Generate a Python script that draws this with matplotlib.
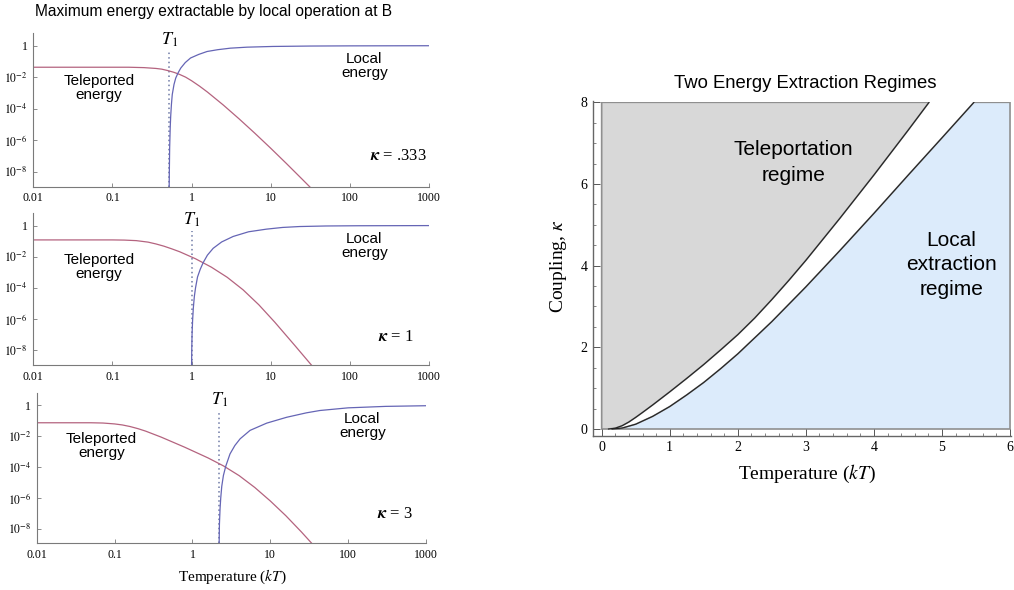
import numpy as np
import matplotlib.pyplot as plt
from matplotlib.ticker import MultipleLocator, NullLocator

plt.rcParams['mathtext.fontset'] = 'stix'
plt.rcParams['font.family'] = ['Liberation Serif', 'DejaVu Serif']

SANS = ['Liberation Sans', 'DejaVu Sans']
TELE_COLOR = '#b4637f'
LOCAL_COLOR = '#6565b5'
T1_COLOR = '#6f7aa6'
AXIS_GRAY = '#7a7a7a'

# ---- left: energy extractable vs temperature, one panel per coupling ----
kappa_labels = ['.333', '1', '3']
t1_values = [0.521, 1.0, 2.2]

# kappa = .333
tele_T_a = [0.01, 0.1, 0.16, 0.25, 0.355, 0.42, 0.5, 0.6, 0.708, 0.84, 1.0, 1.26, 1.585,
            2.51, 3.98, 6.31, 10, 15.85, 25.1, 31.6]
tele_E_a = [0.043, 0.043, 0.043, 0.0406, 0.036, 0.0324, 0.0264, 0.0203, 0.0149, 0.0101,
            5.96e-3, 2.7e-3, 1.14e-3, 1.72e-4, 2.26e-5, 2.72e-6, 3.05e-7, 3.2e-8, 3.2e-9, 1.0e-9]
local_T_a = [0.521, 0.5236, 0.5284, 0.537, 0.5445, 0.556, 0.570, 0.600, 0.631, 0.676, 0.730,
             0.832, 0.970, 1.23, 1.57, 2.14, 3.09, 5.01, 10.7, 31.6, 100, 1000]
local_E_a = [1e-9, 1e-8, 3.2e-7, 6.3e-6, 3.2e-5, 1.8e-4, 7.9e-4, 3.5e-3, 8.9e-3, 0.019, 0.038,
             0.085, 0.166, 0.28, 0.43, 0.56, 0.70, 0.81, 0.90, 0.955, 0.98, 1.0]

# kappa = 1
tele_T_b = [0.01, 0.1, 0.141, 0.2, 0.282, 0.355, 0.447, 0.562, 0.708, 1.122, 1.778, 2.818,
            4.467, 7.08, 11.22, 19.95, 31.6, 39.8]
tele_E_b = [0.12, 0.12, 0.117, 0.108, 0.0866, 0.066, 0.0476, 0.032, 0.0208, 7.37e-3, 2.13e-3,
            4.76e-4, 7.5e-5, 8.1e-6, 6.3e-7, 2.1e-8, 1.33e-9, 3.3e-10]
local_T_b = [1.0, 1.005, 1.014, 1.03, 1.052, 1.084, 1.122, 1.189, 1.288, 1.403, 1.585, 1.875,
             2.4, 3.35, 5.25, 8.81, 14.1, 23.2, 50, 126, 1000]
local_E_b = [1e-9, 1e-8, 1e-7, 7.9e-7, 5e-6, 2.8e-5, 1e-4, 5e-4, 1.58e-3, 4.2e-3, 0.0126,
             0.0347, 0.089, 0.2, 0.4, 0.59, 0.76, 0.87, 0.944, 0.977, 1.0]

# kappa = 3
tele_T_c = [0.01, 0.05, 0.071, 0.1, 0.126, 0.158, 0.2, 0.251, 0.398, 0.794, 1.585, 2.51,
            3.98, 6.31, 10, 15.85, 25.1, 39.8]
tele_E_c = [0.075, 0.075, 0.072, 0.063, 0.054, 0.0427, 0.031, 0.0214, 8.7e-3, 1.94e-3,
            3.9e-4, 1.17e-4, 2.75e-5, 4.7e-6, 6.2e-7, 6.8e-8, 6.0e-9, 4.6e-10]
local_T_c = [2.2, 2.206, 2.223, 2.265, 2.312, 2.382, 2.5, 2.68, 3.04, 3.51, 4.1, 5.5, 9.0,
             16.2, 29, 43.4, 100, 302, 1000]
local_E_c = [1e-10, 1.6e-9, 2e-8, 2e-7, 1e-6, 5.6e-6, 2.8e-5, 1.12e-4, 7.1e-4, 2.5e-3,
             6.8e-3, 0.024, 0.071, 0.17, 0.33, 0.47, 0.7, 0.87, 0.96]

log_xticks = [0.01, 0.1, 1, 10, 100, 1000]
log_xticklabels = ['0.01', '0.1', '1', '10', '100', '1000']
log_yticks = [1, 1e-2, 1e-4, 1e-6, 1e-8]
log_yticklabels = ['1', '$10^{-2}$', '$10^{-4}$', '$10^{-6}$', '$10^{-8}$']

# ---- right: regime boundaries in the (temperature, coupling) plane ----
upper_T = [0.1, 0.2, 0.3, 0.4, 0.5, 0.6, 0.75, 1.0, 1.25, 1.5, 1.75, 2.0, 2.25, 2.5, 2.75,
           3.0, 3.5, 4.0, 4.5, 4.81]
upper_K = [0.0, 0.02, 0.08, 0.172, 0.285, 0.405, 0.59, 0.91, 1.24, 1.58, 1.94, 2.31, 2.72,
           3.17, 3.64, 4.13, 5.16, 6.22, 7.31, 8.0]
lower_T = [0.15, 0.3, 0.5, 0.75, 1.0, 1.25, 1.5, 1.75, 2.0, 2.5, 3.0, 3.5, 4.0, 4.5, 5.0, 5.47]
lower_K = [0.0, 0.0225, 0.1175, 0.31, 0.55, 0.835, 1.14, 1.48, 1.84, 2.63, 3.48, 4.37, 5.28,
           6.21, 7.13, 8.0]
regime_xticks = [0, 1, 2, 3, 4, 5, 6]
regime_yticks = [0, 2, 4, 6, 8]

W, H = 1014, 590
fig = plt.figure(figsize=(W / 100, H / 100), dpi=100)


def px_rect(x0, y0, x1, y1):
    # pixel box (top-left origin) -> figure fraction rect
    return [x0 / W, 1 - y1 / H, (x1 - x0) / W, (y1 - y0) / H]


panels = [
    (px_rect(33.3, 33.3, 429, 186.7), tele_T_a, tele_E_a, local_T_a, local_E_a),
    (px_rect(33.3, 213.3, 429, 365), tele_T_b, tele_E_b, local_T_b, local_E_b),
    (px_rect(36.7, 393.3, 426, 543.3), tele_T_c, tele_E_c, local_T_c, local_E_c),
]
kappa_pos = [(935, 9.3e-8), (650, 7.2e-8), (676, 8.9e-8)]
ylo, yhi = 10 ** -8.96, 10 ** 0.79

for i, (rect, tT, tE, lT, lE) in enumerate(panels):
    ax = fig.add_axes(rect)
    ax.set_xscale('log')
    ax.set_yscale('log')
    t1 = t1_values[i]
    ax.plot([t1, t1], [ylo, 0.45], color=T1_COLOR, lw=1.1, ls=(0, (1, 2)))
    ax.plot(tT, tE, color=TELE_COLOR, lw=0.9)
    ax.plot(lT, lE, color=LOCAL_COLOR, lw=0.9)
    ax.set_xlim(0.01, 1000)
    ax.set_ylim(ylo, yhi)
    for s in ['top', 'right']:
        ax.spines[s].set_visible(False)
    for s in ['left', 'bottom']:
        ax.spines[s].set_color(AXIS_GRAY)
        ax.spines[s].set_linewidth(0.8)
    ax.set_xticks(log_xticks, log_xticklabels)
    ax.set_yticks(log_yticks, log_yticklabels)
    ax.xaxis.set_minor_locator(NullLocator())
    ax.yaxis.set_minor_locator(NullLocator())
    ax.tick_params(direction='in', length=3, width=0.6, color=AXIS_GRAY,
                   labelsize=8.5, pad=4)
    ax.text(t1, 2.3, '$T_1$', fontsize=13, ha='center', va='center', clip_on=False)
    ax.text(0.068, 2.2e-3, 'Teleported\nenergy', family=SANS, fontsize=11,
            ha='center', va='center', linespacing=1.0)
    ax.text(152, 0.049, 'Local\nenergy', family=SANS, fontsize=11,
            ha='center', va='center', linespacing=1.0)
    kx, ky = kappa_pos[i]
    ax.text(kx, ky, r'$\boldsymbol{\kappa}$ = ' + kappa_labels[i], fontsize=12,
            ha='right', va='center')

fig.text(35 / W, 1 - 11.7 / H, 'Maximum energy extractable by local operation at B',
         family=SANS, fontsize=11.2, ha='left', va='center')
fig.text(232 / W, 1 - 577 / H, 'Temperature ($kT$)', fontsize=11, ha='center', va='center')

# ---- right panel ----
ax = fig.add_axes(px_rect(593.3, 101.5, 1010.7, 435.7))
ax.fill(np.r_[0, upper_T, 0], np.r_[0, upper_K, 8], facecolor='#d8d8d8',
        edgecolor='#8f8f8f', lw=1.2)
ax.fill(np.r_[lower_T, 6, 6], np.r_[lower_K, 8, 0], facecolor='#dcebfb',
        edgecolor='#8f8f8f', lw=1.2)
ax.plot(upper_T, upper_K, color='#222222', lw=0.8)
ax.plot(lower_T, lower_K, color='#222222', lw=0.8)
ax.set_xlim(-0.123, 6.01)
ax.set_ylim(-0.164, 8.02)
for s in ['top', 'right']:
    ax.spines[s].set_visible(False)
for s in ['left', 'bottom']:
    ax.spines[s].set_color('#666666')
    ax.spines[s].set_linewidth(1.0)
ax.set_xticks(regime_xticks)
ax.set_yticks(regime_yticks)
ax.xaxis.set_minor_locator(MultipleLocator(0.2))
ax.yaxis.set_minor_locator(MultipleLocator(0.5))
ax.tick_params(which='major', direction='in', length=5, width=0.7, color='#555555',
               labelsize=10, pad=4)
ax.tick_params(which='minor', direction='in', length=2.5, width=0.5, color='#555555')
ax.text(2.816, 6.53, 'Teleportation\nregime', family=SANS, fontsize=15,
        ha='center', va='center', linespacing=1.45)
ax.text(5.14, 4.02, 'Local\nextraction\nregime', family=SANS, fontsize=15,
        ha='center', va='center', linespacing=1.35)

fig.text(805.7 / W, 1 - 83.3 / H, 'Two Energy Extraction Regimes', family=SANS,
         fontsize=13.3, ha='center', va='center')
fig.text(806.7 / W, 1 - 474 / H, 'Temperature ($kT$)', fontsize=14, ha='center', va='center')
fig.text(558.3 / W, 1 - 266 / H, r'Coupling, $\kappa$', fontsize=14, rotation=90,
         ha='center', va='center')

fig.savefig('out.png', dpi=100)
